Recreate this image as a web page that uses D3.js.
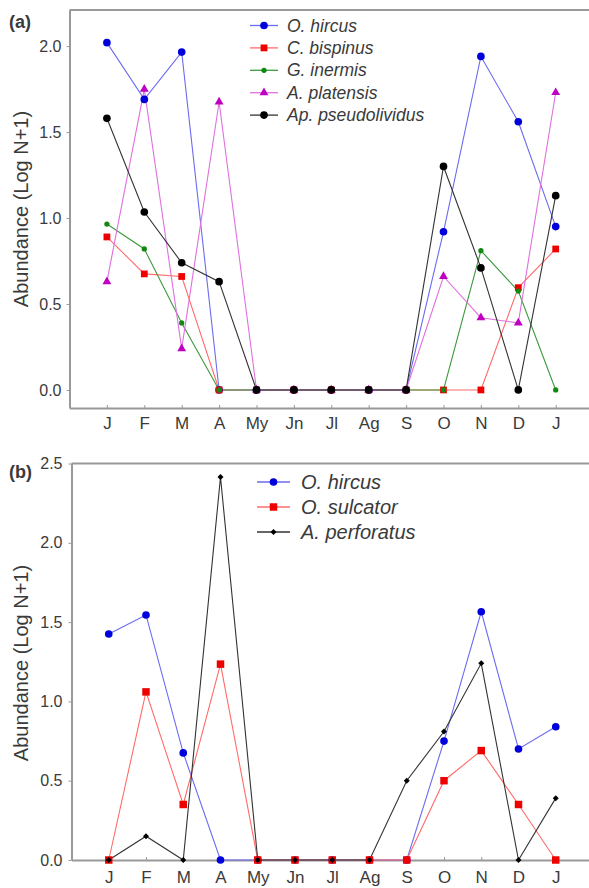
<!DOCTYPE html>
<html><head><meta charset="utf-8">
<script src="https://cdn.jsdelivr.net/npm/d3@7"></script>
<style>
html,body{margin:0;padding:0;background:#fff;}
svg{display:block;font-family:Arial,"Liberation Sans",sans-serif;}
</style></head>
<body>
<svg id="chart" width="589" height="888"></svg>
<script>
// ---------- data ----------
const months = ["J","F","M","A","My","Jn","Jl","Ag","S","O","N","D","J"];

// Panel (a)
const seriesA_names = ["O. hircus","C. bispinus","G. inermis","A. platensis","Ap. pseudolividus"];
const oHircusA      = [2.02,1.69,1.965,0,0,0,0,0,0,0.92,1.94,1.56,0.95];
const cBispinus     = [0.89,0.675,0.66,0,0,0,0,0,0,0,0,0.595,0.82];
const gInermis      = [0.965,0.82,0.39,0,0,0,0,0,0,0,0.81,0.575,0];
const aPlatensis    = [0.63,1.75,0.24,1.675,0,0,0,0,0,0.66,0.42,0.39,1.73];
const apPseudo      = [1.58,1.035,0.74,0.63,0,0,0,0,0,1.30,0.71,0,1.13];
const yTicksA = [0,0.5,1.0,1.5,2.0];

// Panel (b)
const seriesB_names = ["O. hircus","O. sulcator","A. perforatus"];
const oHircusB    = [1.425,1.545,0.675,0,0,0,0,0,0,0.75,1.565,0.70,0.84];
const oSulcator   = [0,1.06,0.35,1.235,0,0,0,0,0,0.50,0.69,0.35,0];
const aPerforatus = [0,0.15,0,2.415,0,0,0,0,0.50,0.81,1.24,0,0.39];
const yTicksB = [0,0.5,1.0,1.5,2.0,2.5];

// ---------- styles ----------
const stylesA = [
  {line:"#6b6bf0", fill:"#0000dd", shape:"circle", size:46, rot:0},
  {line:"#ff6b6b", fill:"#ee0000", shape:"square", size:46, rot:0},
  {line:"#3d9a3d", fill:"#118811", shape:"circle", size:22, rot:0},
  {line:"#e070e0", fill:"#c000c0", shape:"triangle", size:34, rot:0},
  {line:"#333333", fill:"#000000", shape:"circle", size:46, rot:0}
];
const stylesB = [
  {line:"#6b6bf0", fill:"#0000dd", shape:"circle", size:46, rot:0},
  {line:"#ff6b6b", fill:"#ee0000", shape:"square", size:56, rot:0},
  {line:"#333333", fill:"#000000", shape:"square", size:18, rot:45}
];
const shapeMap = {circle:d3.symbolCircle, square:d3.symbolSquare, triangle:d3.symbolTriangle};

const svg = d3.select("#chart");
const axisCol = "#999";
const textCol = "#3a3a3a";

function panel(cfg){
  const g = svg.append("g");
  const x = d3.scaleLinear().domain([-1,13]).range(cfg.xRange);
  const y = d3.scaleLinear().domain(cfg.yDomain).range(cfg.yRange);

  // top border
  g.append("line").attr("x1",cfg.xRange[0]).attr("x2",589)
    .attr("y1",cfg.yRange[1]).attr("y2",cfg.yRange[1])
    .attr("stroke",axisCol).attr("stroke-width",2);

  // y axis
  const ya = g.append("g").attr("transform",`translate(${cfg.xRange[0]},0)`)
    .call(d3.axisLeft(y).tickValues(cfg.yTicks).tickFormat(d3.format(".1f")).tickSize(3).tickSizeOuter(0).tickPadding(cfg.yPad));
  ya.select(".domain").attr("stroke",axisCol).attr("stroke-width",2);
  ya.selectAll(".tick line").attr("stroke",axisCol);
  ya.selectAll("text").attr("fill",textCol).attr("font-size",16);

  // x axis
  const xa = g.append("g").attr("transform",`translate(0,${cfg.xAxisY})`)
    .call(d3.axisBottom(x).tickValues(d3.range(months.length)).tickFormat(i=>months[i]).tickSize(-3).tickSizeOuter(0).tickPadding(cfg.xPad));
  xa.select(".domain").attr("stroke",axisCol).attr("stroke-width",2);
  xa.selectAll(".tick line").attr("stroke",axisCol);
  xa.selectAll("text").attr("fill",textCol).attr("font-size",17);

  // lines
  const line = d3.line().x((d,i)=>x(i)).y(d=>y(d));
  cfg.series.forEach((s,k)=>{
    g.append("path").datum(s).attr("d",line).attr("fill","none")
      .attr("stroke",cfg.styles[k].line).attr("stroke-width",1.1);
  });
  // markers
  cfg.series.forEach((s,k)=>{
    const st = cfg.styles[k];
    g.append("g").selectAll("path").data(s).join("path")
      .attr("d",d3.symbol().type(shapeMap[st.shape]).size(st.size))
      .attr("transform",(d,i)=>`translate(${x(i)},${y(d)}) rotate(${st.rot})`)
      .attr("fill",st.fill);
  });

  // legend
  const lg = g.append("g");
  cfg.names.forEach((n,k)=>{
    const st = cfg.styles[k];
    const yy = cfg.leg.y0 + k*cfg.leg.dy;
    lg.append("line").attr("x1",cfg.leg.x1).attr("x2",cfg.leg.x2).attr("y1",yy).attr("y2",yy)
      .attr("stroke",st.line).attr("stroke-width",1.3);
    lg.append("path").attr("d",d3.symbol().type(shapeMap[st.shape]).size(st.size))
      .attr("transform",`translate(${(cfg.leg.x1+cfg.leg.x2)/2},${yy}) rotate(${st.rot})`).attr("fill",st.fill);
    lg.append("text").attr("x",cfg.leg.tx).attr("y",yy).attr("dy","0.35em")
      .attr("font-size",cfg.leg.fs).attr("font-style","italic").attr("fill",textCol).text(n);
  });

  // panel label
  g.append("text").attr("x",9).attr("y",cfg.labelY).attr("font-size",18).attr("fill",textCol)
    .attr("font-weight",600).text(cfg.label);

  // y title
  g.append("text").attr("transform",`translate(28,${cfg.titleY}) rotate(-90)`)
    .attr("text-anchor","middle").attr("font-size",20).attr("fill",textCol)
    .text("Abundance (Log N+1)");
}

panel({
  xRange:[69.5, 69.5+14*37.4], yDomain:[-0.105,2.21], yRange:[408,10], xAxisY:408,
  yTicks:yTicksA, yPad:5, xPad:9,
  series:[oHircusA,cBispinus,gInermis,aPlatensis,apPseudo], styles:stylesA, names:seriesA_names,
  leg:{x1:250,x2:278,y0:25.5,dy:22.4,tx:287,fs:17.5},
  label:"(a)", labelY:28, titleY:209
});

panel({
  xRange:[71.5, 71.5+14*37.25], yDomain:[0,2.5], yRange:[860,463.5], xAxisY:860,
  yTicks:yTicksB, yPad:6, xPad:11,
  series:[oHircusB,oSulcator,aPerforatus], styles:stylesB, names:seriesB_names,
  leg:{x1:257,x2:290,y0:482,dy:25,tx:301,fs:20},
  label:"(b)", labelY:478, titleY:663
});
</script>
</body></html>
